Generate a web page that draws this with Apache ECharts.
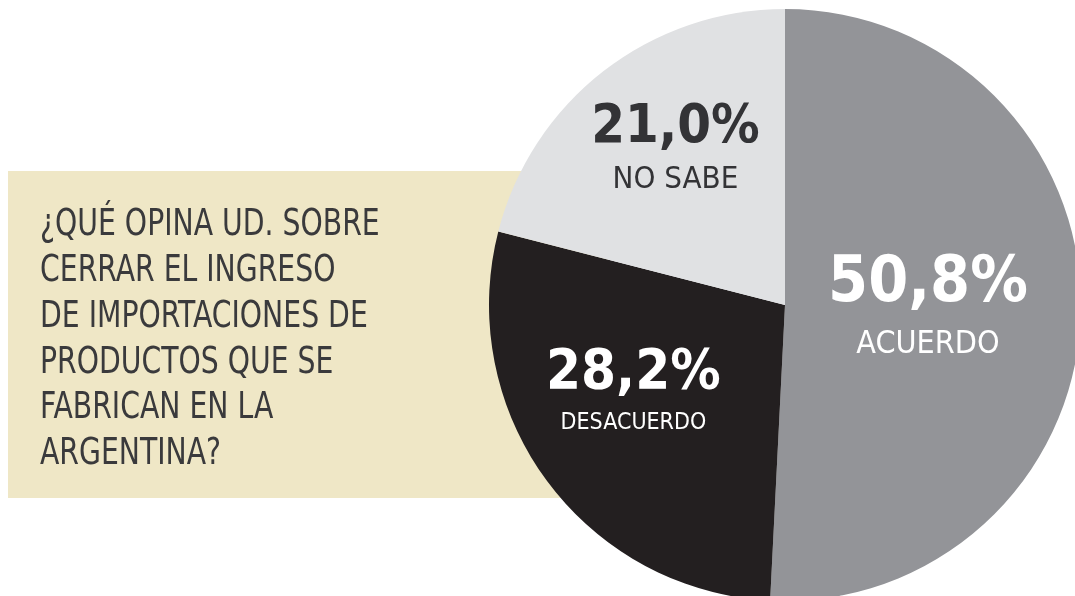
<!DOCTYPE html>
<html>
<head>
<meta charset="utf-8">
<script src="https://cdn.jsdelivr.net/npm/echarts@6/dist/echarts.min.js"></script>
<style>
  html, body { margin: 0; padding: 0; background: #fff; }
  #chart { width: 1075px; height: 596px; }
</style>
</head>
<body>
<div id="chart"></div>
<script>
// Survey answer shares, clockwise from 12 o'clock.
const categories = ['ACUERDO', 'DESACUERDO', 'NO SABE'];
const shares = [50.8, 28.2, 21.0];
const sliceColors = ['#939498', '#231f20', '#e0e1e3'];
const labelColors = ['#ffffff', '#ffffff', '#333336'];
const question = [
  '¿QUÉ OPINA UD. SOBRE',
  'CERRAR EL INGRESO',
  'DE IMPORTACIONES DE',
  'PRODUCTOS QUE SE',
  'FABRICAN EN LA',
  'ARGENTINA?',
];

// no narrow Helvetica here; DejaVu condensed is the closest we have
const FONT = '"Liberation Sans Narrow", "DejaVu Sans Condensed", sans-serif';

// per-slice label styling: [value size, value line, name size, name line, dx, dy]
const labelStyle = [
  [64, 80, 32, 41, -8, -4],
  [56, 70, 23, 30, -30, -6],
  [54, 66, 31, 38, -17, -39],
];

const fmt = (v) => v.toFixed(1).replace('.', ',') + '%';

const chart = echarts.init(document.getElementById('chart'), null, { renderer: 'canvas' });

chart.setOption({
  animation: false,
  graphic: [
    {
      type: 'rect',
      z: -10,
      shape: { x: 8, y: 171, width: 600, height: 327 },
      style: { fill: '#efe7c6' },
    },
    {
      type: 'text',
      z: -5,
      x: 40,
      y: 203,
      scaleX: 0.85,
      style: {
        text: question.join('\n'),
        font: '37px ' + FONT,
        lineHeight: 45.7,
        fill: '#3a3a3c',
        verticalAlign: 'top',
      },
    },
  ],
  series: [
    {
      type: 'pie',
      center: [785, 305],
      radius: 296,
      startAngle: 90,
      clockwise: true,
      silent: true,
      labelLine: { show: false },
      data: categories.map((name, i) => {
        const [vs, vl, ns, nl] = labelStyle[i];
        return {
          name,
          value: shares[i],
          itemStyle: { color: sliceColors[i] },
          label: {
            show: true,
            position: 'inner',
            formatter: () => '{v|' + fmt(shares[i]) + '}\n{n|' + name + '}',
            rich: {
              v: { fontFamily: FONT, fontWeight: 'bold', fontSize: vs, lineHeight: vl, color: labelColors[i], align: 'center' },
              n: { fontFamily: FONT, fontSize: ns, lineHeight: nl, color: labelColors[i], align: 'center' },
            },
          },
        };
      }),
      labelLayout: (params) => ({
        dx: labelStyle[params.dataIndex][4],
        dy: labelStyle[params.dataIndex][5],
      }),
    },
  ],
});
</script>
</body>
</html>
